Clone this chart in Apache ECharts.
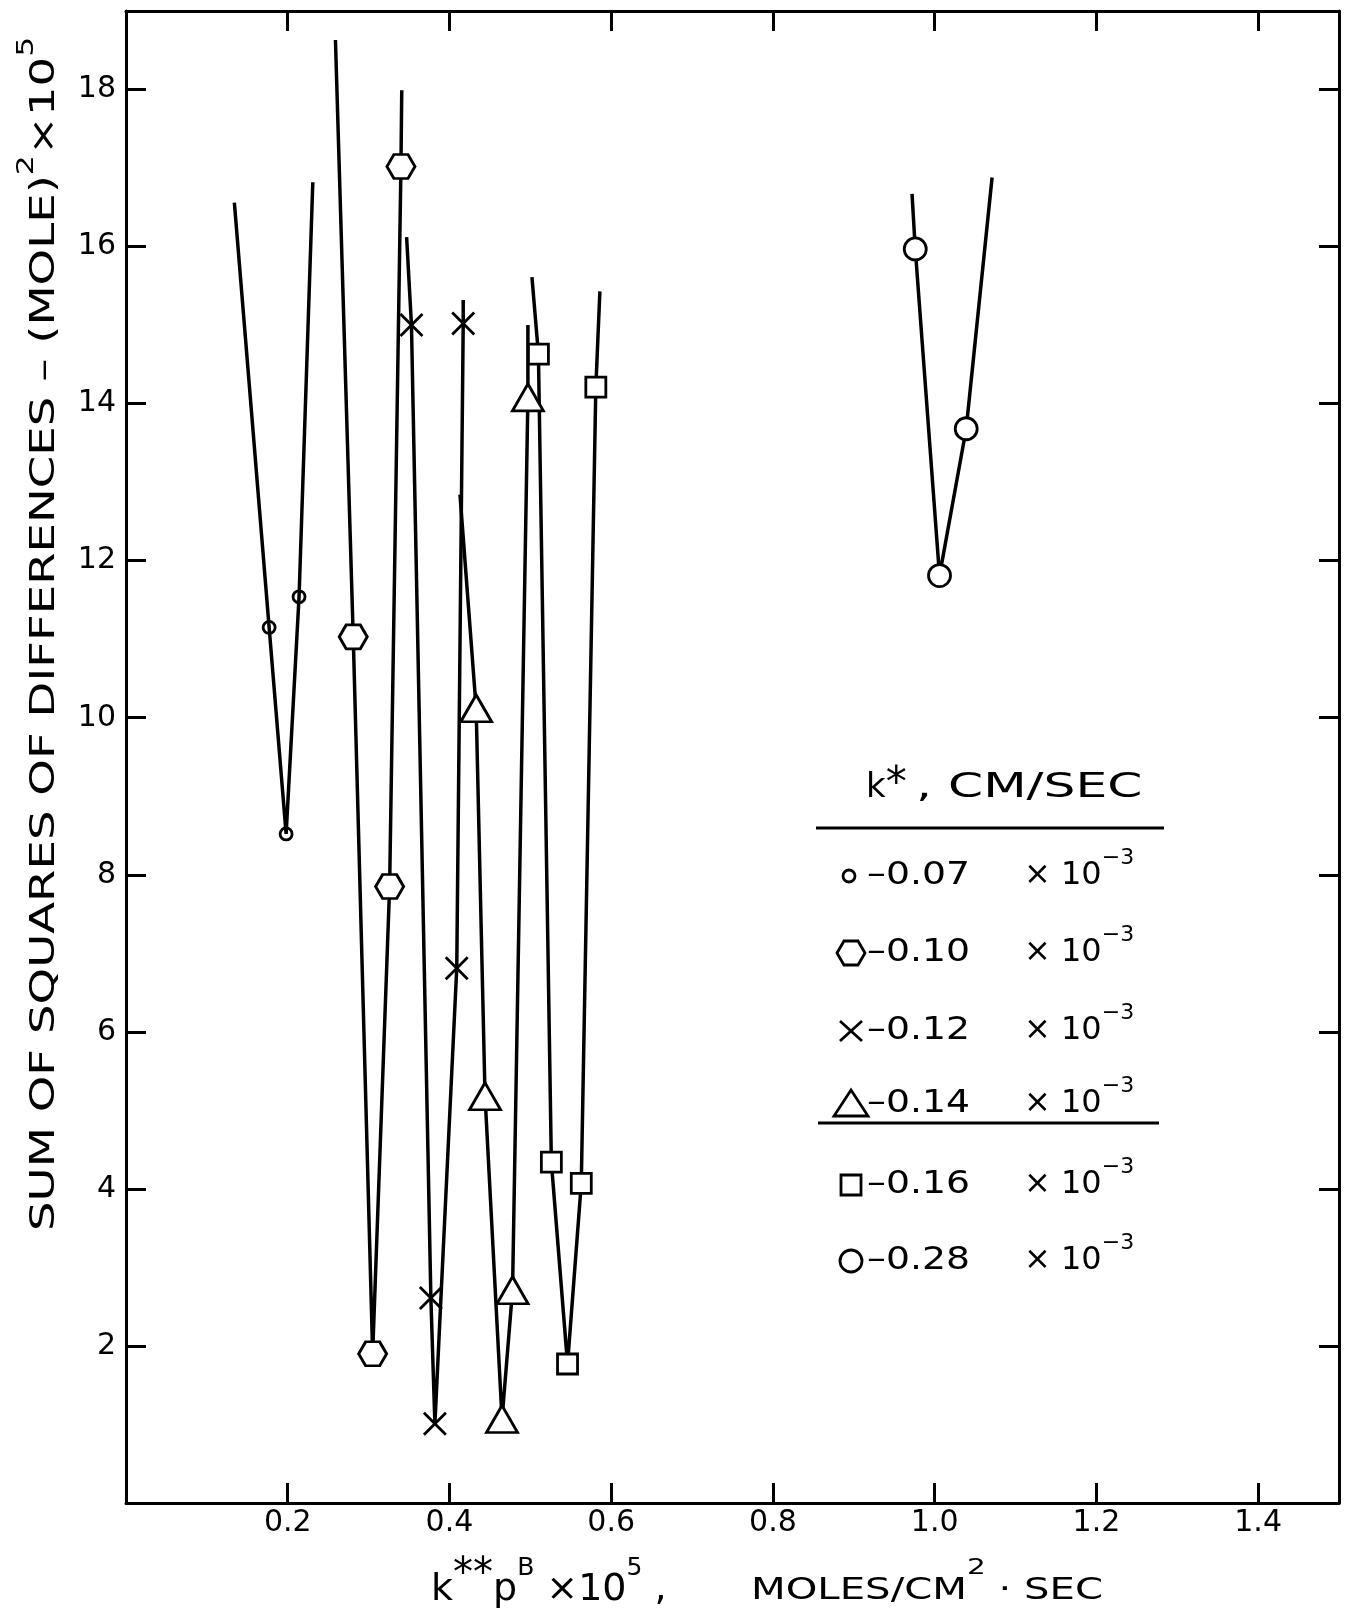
<!DOCTYPE html>
<html>
<head>
<meta charset="utf-8">
<title>Sum of squares of differences vs k**pB</title>
<script src="https://cdn.jsdelivr.net/npm/echarts@6/dist/echarts.min.js"></script>
<style>
  html, body { margin: 0; padding: 0; background: #fff; }
  #chart { width: 1349px; height: 1620px; }
</style>
</head>
<body>
<div id="chart"></div>
<script>
// ---- tick values ----
const xTickValues = [0.2, 0.4, 0.6, 0.8, 1.0, 1.2, 1.4];
const yTickValues = [2, 4, 6, 8, 10, 12, 14, 16, 18];

// ---- k* values (x 10^-3 cm/sec), one curve each ----
const kStarLabels = ['0.07', '0.10', '0.12', '0.14', '0.16', '0.28'];

// ---- measured points: [k**pB x 10^5, sum of squares x 10^5] ----
const pts007 = [[0.177, 11.15], [0.198, 8.52], [0.214, 11.54]];
const pts010 = [[0.281, 11.03], [0.305, 1.90], [0.326, 7.85], [0.340, 17.02]];
const pts012 = [[0.353, 15.0], [0.377, 2.61], [0.382, 1.01], [0.409, 6.81], [0.417, 15.02]];
const pts014 = [[0.433, 10.12], [0.444, 5.18], [0.465, 1.07], [0.478, 2.71], [0.497, 14.08]];
const pts016 = [[0.510, 14.63], [0.526, 4.34], [0.546, 1.77], [0.563, 4.07], [0.581, 14.21]];
const pts028 = [[0.976, 15.97], [1.006, 11.81], [1.039, 13.68]];

// ---- where each fitted curve begins and ends ----
const ends007 = [[0.134, 16.56], [0.231, 16.82]];
const ends010 = [[0.259, 18.63], [0.341, 17.99]];
const ends012 = [[0.347, 16.12], [0.417, 15.32]];
const ends014 = [[0.413, 12.84], [0.497, 15.0]];
const ends016 = [[0.502, 15.61], [0.586, 15.43]];
const ends028 = [[0.972, 16.67], [1.071, 16.88]];

const FONT = 'DejaVu Sans';
const INK = '#000';

const hexPath = 'path://M0,8L5,0L15,0L20,8L15,16L5,16Z';
const crossPath = 'path://M0,0L20,20M20,0L0,20';

const groups = [
  { label: kStarLabels[0], pts: pts007, ends: ends007, symbol: 'circle',   size: 12,       fill: 'transparent' },
  { label: kStarLabels[1], pts: pts010, ends: ends010, symbol: hexPath,    size: [28, 24], fill: '#fff' },
  { label: kStarLabels[2], pts: pts012, ends: ends012, symbol: crossPath,  size: [22, 22], fill: 'none' },
  { label: kStarLabels[3], pts: pts014, ends: ends014, symbol: 'triangle', size: [31, 27], fill: '#fff' },
  { label: kStarLabels[4], pts: pts016, ends: ends016, symbol: 'rect',     size: [20, 20], fill: '#fff' },
  { label: kStarLabels[5], pts: pts028, ends: ends028, symbol: 'circle',   size: 22,       fill: '#fff' }
];

const series = [];
groups.forEach(g => {
  series.push({
    type: 'line',
    name: g.label + ' curve',
    data: [g.ends[0]].concat(g.pts, [g.ends[1]]),
    symbol: 'none',
    smooth: false,
    lineStyle: { color: INK, width: 3.5 },
    z: 2,
    silent: true
  });
});
groups.forEach(g => {
  series.push({
    type: 'scatter',
    name: g.label,
    data: g.pts,
    symbol: g.symbol,
    symbolSize: g.size,
    itemStyle: { color: g.fill, borderColor: INK, borderWidth: 2.8, opacity: 1 },
    z: 3
  });
});

const frameLine = { show: true, onZero: false, lineStyle: { color: INK, width: 3 } };
const tick = (vals) => ({ show: true, inside: true, length: 20, customValues: vals, lineStyle: { color: INK, width: 3 } });

// text helper: block anchored at its top; main glyphs are pushed down by `pad`
// so that top-aligned superscript tokens sit above them
const textEl = (x, y, text, rich, extra) => Object.assign({
  type: 'text', x: x, y: y,
  style: { text: text, rich: rich, align: 'left', verticalAlign: 'top', textAlign: 'left', textVerticalAlign: 'top' }
}, extra || {});
const tok = (size, pad) => ({ fontFamily: FONT, fontSize: size, verticalAlign: 'top', padding: [pad, 0, 0, 0], color: INK, fill: INK });

// ---- legend block ----
const legendRowsY = [876, 953, 1031, 1104, 1185, 1261];
const legendMarkX = 851;
const mk = (i, y) => {
  const st = { stroke: INK, lineWidth: 2.8, fill: '#fff' };
  switch (i) {
    case 0: return { type: 'circle', shape: { cx: legendMarkX - 2, cy: y, r: 6 }, style: Object.assign({}, st, { fill: 'none' }) };
    case 1: return { type: 'polygon', shape: { points: [[legendMarkX - 14, y], [legendMarkX - 7, y - 12], [legendMarkX + 7, y - 12], [legendMarkX + 14, y], [legendMarkX + 7, y + 12], [legendMarkX - 7, y + 12]] }, style: st };
    case 2: return { type: 'group', children: [
      { type: 'line', shape: { x1: legendMarkX - 11, y1: y - 10, x2: legendMarkX + 11, y2: y + 10 }, style: { stroke: INK, lineWidth: 2.8 } },
      { type: 'line', shape: { x1: legendMarkX + 11, y1: y - 10, x2: legendMarkX - 11, y2: y + 10 }, style: { stroke: INK, lineWidth: 2.8 } }
    ] };
    case 3: return { type: 'polygon', shape: { points: [[legendMarkX, y - 14], [legendMarkX + 17, y + 12], [legendMarkX - 17, y + 12]] }, style: st };
    case 4: return { type: 'rect', shape: { x: legendMarkX - 10, y: y - 10, width: 20, height: 20 }, style: st };
    default: return { type: 'circle', shape: { cx: legendMarkX, cy: y, r: 11 }, style: st };
  }
};

const graphics = [];
// heading: k* , CM/SEC
graphics.push(textEl(866, 764, '{a|k}{st|*}', { a: tok(34, 7), st: tok(42, 0) }));
graphics.push(textEl(916, 771, '{a|, CM/SEC}', { a: tok(34, 0) }, { scaleX: 1.48 }));
graphics.push({ type: 'line', shape: { x1: 816, y1: 828, x2: 1164, y2: 828 }, style: { stroke: INK, lineWidth: 3 } });
graphics.push({ type: 'line', shape: { x1: 818, y1: 1123, x2: 1159, y2: 1123 }, style: { stroke: INK, lineWidth: 3 } });
const entryRich = { a: tok(32, 13), s: tok(22, 0) };
groups.forEach((g, i) => {
  const y = legendRowsY[i];
  graphics.push(mk(i, y));
  graphics.push(textEl(867, y - 29, '{a|–' + g.label + '}', entryRich, { scaleX: 1.18 }));
  graphics.push(textEl(1024, y - 29, '{a|× 10}{s|−3}', entryRich));
});

// x-axis title
graphics.push(textEl(431, 1556, '{a|k}{st|**}{a|p}{s|B}{a| ×10}{s|5}{a| ,}',
  { a: tok(38, 15), s: tok(25, 0), st: tok(40, 0) }));
graphics.push(textEl(751, 1557, '{a|MOLES/CM}{s|2}{a| · SEC}',
  { a: tok(30, 19), s: tok(22, 0) }, { scaleX: 1.34 }));

// y-axis title, reading upward
graphics.push(textEl(16, 1231, '{a|SUM OF SQUARES OF DIFFERENCES – (MOLE)}{s|2}{a|×10}{s|5}',
  { a: tok(34, 12), s: tok(23, 0) }, { rotation: Math.PI / 2, scaleX: 1.37 }));

const option = {
  animation: false,
  backgroundColor: '#fff',
  grid: { left: 126, right: 10, top: 11, bottom: 117, containLabel: false },
  xAxis: [
    {
      type: 'value', min: 0, max: 1.5, interval: 0.2, position: 'bottom',
      axisLine: frameLine, axisTick: tick(xTickValues),
      axisLabel: { customValues: xTickValues, formatter: v => v.toFixed(1), fontFamily: FONT, fontSize: 30, color: INK, margin: 5 },
      splitLine: { show: false }
    },
    {
      type: 'value', min: 0, max: 1.5, interval: 0.2, position: 'top',
      axisLine: frameLine, axisTick: tick(xTickValues),
      axisLabel: { show: false }, splitLine: { show: false }
    }
  ],
  yAxis: [
    {
      type: 'value', min: 0, max: 19, interval: 2, position: 'left',
      axisLine: frameLine, axisTick: tick(yTickValues),
      axisLabel: { customValues: yTickValues, fontFamily: FONT, fontSize: 30, color: INK, margin: 10 },
      splitLine: { show: false }
    },
    {
      type: 'value', min: 0, max: 19, interval: 2, position: 'right',
      axisLine: frameLine, axisTick: tick(yTickValues),
      axisLabel: { show: false }, splitLine: { show: false }
    }
  ],
  series: series,
  graphic: graphics
};

const chart = echarts.init(document.getElementById('chart'), null, { renderer: 'canvas' });
chart.setOption(option);
</script>
</body>
</html>
